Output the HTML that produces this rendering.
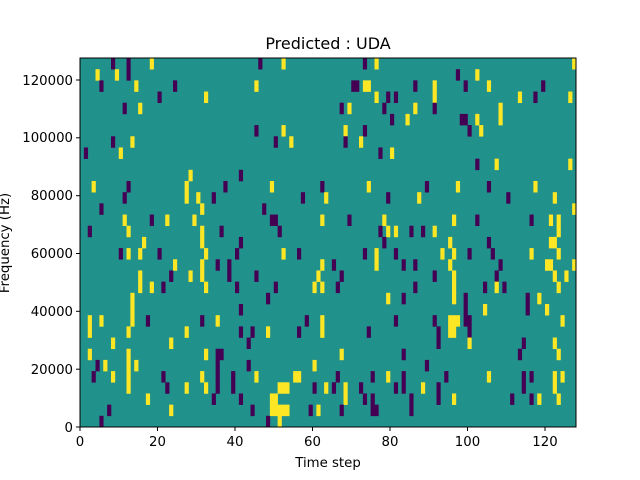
<!DOCTYPE html>
<html><head><meta charset="utf-8"><style>
body{margin:0;background:#fff}
svg{display:block;font-family:"DejaVu Sans","Liberation Sans",sans-serif}
</style></head><body>
<svg id="s" width="640" height="480" xmlns="http://www.w3.org/2000/svg">
<rect x="0" y="0" width="640" height="480" fill="#fff"/>
<rect x="80" y="58" width="496" height="369" fill="#21918c"/>
<g id="cells"></g>
<rect x="80" y="58" width="496" height="369" fill="none" stroke="#000" stroke-width="1"/>
<g stroke="#000" stroke-width="1">
<line x1="80" y1="427" x2="80" y2="431"/><line x1="157.5" y1="427" x2="157.5" y2="431"/><line x1="235" y1="427" x2="235" y2="431"/><line x1="312.5" y1="427" x2="312.5" y2="431"/><line x1="390" y1="427" x2="390" y2="431"/><line x1="467.5" y1="427" x2="467.5" y2="431"/><line x1="545" y1="427" x2="545" y2="431"/>
<line x1="76" y1="427" x2="80" y2="427"/><line x1="76" y1="369.2" x2="80" y2="369.2"/><line x1="76" y1="311.3" x2="80" y2="311.3"/><line x1="76" y1="253.5" x2="80" y2="253.5"/><line x1="76" y1="195.7" x2="80" y2="195.7"/><line x1="76" y1="137.8" x2="80" y2="137.8"/><line x1="76" y1="80" x2="80" y2="80"/>
</g>
<g font-size="13.3" fill="#000" text-anchor="middle">
<text x="80" y="446">0</text><text x="157.5" y="446">20</text><text x="235" y="446">40</text><text x="312.5" y="446">60</text><text x="390" y="446">80</text><text x="467.5" y="446">100</text><text x="545" y="446">120</text>
</g>
<g font-size="13.3" fill="#000" text-anchor="end">
<text x="73" y="432">0</text><text x="73" y="374">20000</text><text x="73" y="316">40000</text><text x="73" y="258">60000</text><text x="73" y="200">80000</text><text x="73" y="142">100000</text><text x="73" y="85">120000</text>
</g>
<text x="328" y="49" font-size="16" text-anchor="middle">Predicted : UDA</text>
<text x="328" y="467" font-size="13.3" text-anchor="middle">Time step</text>
<text transform="translate(9,243) rotate(-90)" font-size="13.3" text-anchor="middle">Frequency (Hz)</text>
</svg>
<script>
var rows={
0:"P8 P12 Y18 P46 Y52 P73 Y76 Y127",
1:"Y4 Y9 P12 P97 Y102",
2:"P5 Y14 P24 Y45 P70-71 Y73-74 P86 Y91 P99 Y105 P119",
3:"P20 Y32 Y76 P79 P81 Y91 Y113 P117 Y126",
4:"P11 Y15 P67 Y69 P78 Y86 P91 Y108",
5:"P80 Y84 P98-99 Y102 Y108",
6:"P45 Y52 Y68 P73 P100 Y103",
7:"P8 Y13 P50 Y54 P68 Y72",
8:"P1 Y10 P77 Y80",
9:"P102 Y107 Y126",
10:"Y28 P41",
11:"Y3 P12 Y27 P37 Y49 P62 Y74 P89 Y97 P105 Y117",
12:"P11 Y27 Y30 P34 P57 Y63 P79 Y87 P110 Y122",
13:"P5 Y31 P47 Y127",
14:"Y11 P18 Y22 Y29 P49-50 Y62 P69 Y78 Y96 P102 P116 Y121 Y123",
15:"P2 Y12 Y31 P36 P51 P77 Y79 Y81 P85 P88 Y91 Y123",
16:"Y16 Y31 P41 P78 Y95 P105 Y121-122",
17:"P10 Y12 Y15 P20 Y32 P40 Y52 P56 P73 Y76 P81 Y93 Y96 P100 P106 Y116 Y123",
18:"Y24 Y31 P35 P38 Y62 P65 Y76 P83 P86 Y95 P108 Y120-121 Y127",
19:"Y15 P23 Y28 Y31 P38 P45 Y61 P67 P91 Y96 P107 Y122 Y125",
20:"Y15 Y18 P21 Y32 P40 P50 Y60 Y62 P66 P86 Y96 P104 Y107 P109 Y123",
21:"Y13 P48 Y79 P83 Y96 P99 P115 Y118",
22:"Y13 P41 P99 Y104 P115 Y120",
23:"Y2 Y5 Y13 P17 P31 Y35 P58 Y62 P81 P91 Y95-97 P99-100 Y124",
24:"Y2 Y12 Y27 P41 P44 Y48 P56 Y62 P74 P92 Y95-96 P100",
25:"Y8 Y23 P43 P92 Y100 P114 Y122",
26:"Y2 Y12 Y32 P35-36 Y67 P83 P113 Y123",
27:"P4 Y6 Y12 Y14 P35 P43 Y60 P89",
28:"P3 Y8 Y12 P21 Y31 P35 P39 Y45 Y55-56 P66 P75 Y79 P83 P94 Y105 P114 P116 Y122 Y124",
29:"Y12 P22 Y27 Y32 P35 P39 Y51-53 P60 Y63 P65 Y68 P72 P81 P83 Y88 P92 P114 Y122",
30:"Y17 P34 P41 Y49-50 Y68 P73 P75 P85 P92 Y96 P111 P116 Y118 Y123",
31:"P7 Y23 P44 Y49-53 P59 Y61 P67 P75 P76 P85",
32:"P5 P48 Y51"
};
var g=document.getElementById("cells"),h=369/33,w=3.875,out="";
for(var r in rows){rows[r].split(" ").forEach(function(t){
 var c=t[0]=="Y"?"#fde725":"#440154";var p=t.slice(1).split("-");var a=+p[0],b=p.length>1?+p[1]:a;
 out+='<rect x="'+(80+a*w)+'" y="'+(58+r*h)+'" width="'+((b-a+1)*w+0.3)+'" height="'+(h+0.3)+'" fill="'+c+'"/>';
});}
g.innerHTML=out;
</script>
</body></html>
